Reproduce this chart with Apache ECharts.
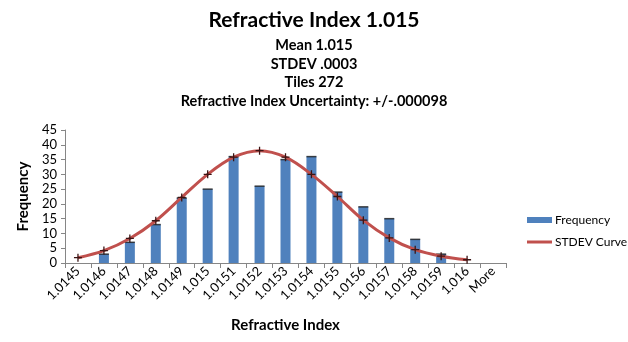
<!DOCTYPE html>
<html><head><meta charset="utf-8">
<script src="https://cdn.jsdelivr.net/npm/echarts@6/dist/echarts.min.js"></script>
<style>html,body{margin:0;padding:0;background:#fff}#c{width:628px;height:342px}</style>
</head><body><div id="c"></div>
<script>
const categories = ['1.0145','1.0146','1.0147','1.0148','1.0149','1.015','1.0151','1.0152','1.0153','1.0154','1.0155','1.0156','1.0157','1.0158','1.0159','1.016','More'];
const frequency = [0,3,7,13,22,25,36,26,35,36,24,19,15,8,3,0,0];
const stdevCurve = [1.8,4.2,8.3,14.3,22.2,30,35.8,38,35.8,30,22.5,14.5,8.5,4.5,2.3,1.1,null];
const yTicks = {min:0, max:45, interval:5};
const titleText = 'Refractive Index 1.015';
const subLines = ['Mean 1.015','STDEV .0003','Tiles 272','Refractive Index Uncertainty: +/-.000098'];

const F = 'Lato, "Open Sans", sans-serif';
const chart = echarts.init(document.getElementById('c'), null, {renderer:'canvas'});
const plus = 'path://M4.2,0h1.6v10h-1.6zM0,4.2h10v1.6h-10z';
chart.setOption({
  animation:false,
  textStyle:{fontFamily:F},
  title:{
    text:titleText, left:'center', top:5,
    textStyle:{fontFamily:F, fontSize:21, fontWeight:'bold', color:'#000'},
    subtext:subLines.join('\n'),
    subtextStyle:{fontFamily:F, fontSize:14.5, fontWeight:'bold', color:'#000', lineHeight:18.7},
    itemGap:5
  },
  legend:[{
    orient:'vertical', left:527, top:214, padding:0, itemWidth:25, itemHeight:6,
    textStyle:{fontFamily:F, fontSize:12, color:'#000', padding:[0,0,0,-2]},
    data:[{name:'Frequency', icon:'rect'}]
  },{
    orient:'vertical', left:527, top:236, padding:0, itemWidth:25, itemHeight:3,
    textStyle:{fontFamily:F, fontSize:12, color:'#000', padding:[0,0,0,-2]},
    data:[{name:'STDEV Curve', icon:'rect', itemStyle:{color:'#C0504D'}}]
  }],
  grid:{left:65, right:122, top:130, bottom:79},
  xAxis:{
    type:'category', data:categories, boundaryGap:true,
    name:'Refractive Index', nameLocation:'middle', nameGap:55,
    nameTextStyle:{fontFamily:F, fontSize:15, fontWeight:'bold', color:'#000'},
    axisLine:{lineStyle:{color:'#868686'}},
    axisTick:{show:true, alignWithLabel:false, length:5, lineStyle:{color:'#868686'}},
    axisLabel:{rotate:45, interval:0, fontSize:13, color:'#000', margin:6, fontFamily:F}
  },
  yAxis:{
    type:'value', min:yTicks.min, max:yTicks.max, interval:yTicks.interval,
    name:'Frequency', nameLocation:'middle', nameGap:33,
    nameTextStyle:{fontFamily:F, fontSize:15, fontWeight:'bold', color:'#000'},
    axisLine:{show:true, lineStyle:{color:'#868686'}},
    axisTick:{show:true, length:4, lineStyle:{color:'#868686'}},
    splitLine:{show:false},
    axisLabel:{fontSize:13, color:'#000', margin:8, fontFamily:F}
  },
  series:[{
    name:'Frequency', type:'bar', data:frequency, barWidth:10,
    itemStyle:{color:'#4F81BD'}, z:2
  },{
    name:'cap', type:'scatter', data:frequency.map((v,i)=> v>0 ? [i,v] : null).filter(Boolean),
    symbol:'rect', symbolSize:[10,1.5], itemStyle:{color:'#1a1a1a'}, silent:true, z:3
  },{
    name:'STDEV Curve', type:'line', data:stdevCurve, smooth:0.35,
    lineStyle:{color:'#C0504D', width:3},
    symbol:plus, symbolSize:8, showSymbol:true,
    itemStyle:{color:'#3a1414'}, z:4
  }]
});
</script></body></html>
